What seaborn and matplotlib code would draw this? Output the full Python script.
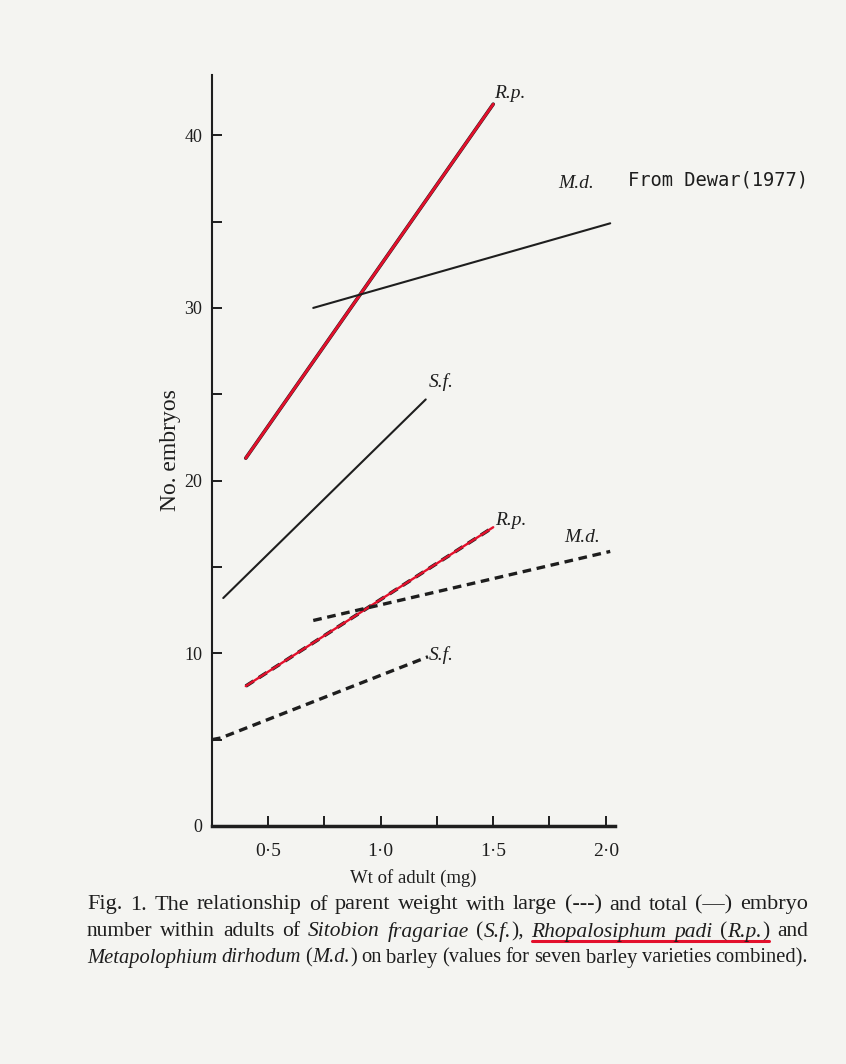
import numpy as np
import pandas as pd
import matplotlib
matplotlib.use("Agg")
import matplotlib.pyplot as plt
import seaborn as sns
from matplotlib.lines import Line2D

# values (Dewar 1977)
rp_total_wt = [0.40, 1.50]
rp_total_emb = [21.3, 41.8]
md_total_wt = [0.70, 2.02]
md_total_emb = [30.0, 34.9]
sf_total_wt = [0.30, 1.20]
sf_total_emb = [13.2, 24.7]

rp_large_wt = [0.40, 1.50]
rp_large_emb = [8.1, 17.3]
md_large_wt = [0.70, 2.02]
md_large_emb = [11.9, 15.9]
sf_large_wt = [0.25, 0.29, 1.21]
sf_large_emb = [5.0, 5.1, 9.8]

x_ticks = [0.5, 1.0, 1.5, 2.0]
x_ticklabels = ["0·5", "1·0", "1·5", "2·0"]
y_ticks = [0, 10, 20, 30, 40]

PAPER = "#f4f4f1"
INK = "#1e1e1e"
RED = "#e3102c"

def frame(wt, emb, species, kind):
    return pd.DataFrame({"wt": wt, "embryos": emb, "species": species, "kind": kind})

df = pd.concat([
    frame(rp_total_wt, rp_total_emb, "R.p.", "total"),
    frame(md_total_wt, md_total_emb, "M.d.", "total"),
    frame(sf_total_wt, sf_total_emb, "S.f.", "total"),
    frame(rp_large_wt, rp_large_emb, "R.p.", "large"),
    frame(md_large_wt, md_large_emb, "M.d.", "large"),
    frame(sf_large_wt, sf_large_emb, "S.f.", "large"),
], ignore_index=True)

sns.set_style("ticks")
plt.rcParams["font.family"] = ["Liberation Serif", "DejaVu Serif"]

fig = plt.figure(figsize=(8.46, 10.64), dpi=100, facecolor=PAPER)
ax = fig.add_axes([0.2506, 0.2237, 0.476, 0.706], facecolor=PAPER)

dash = (0, (2.6, 1.7))
for (sp, kind), sub in df.groupby(["species", "kind"], sort=False):
    ls = "-" if kind == "total" else dash
    if sp == "R.p.":
        # the red highlighter was drawn over the printed black line
        sns.lineplot(data=sub, x="wt", y="embryos", ax=ax, color=INK,
                     lw=2.6, linestyle=ls, estimator=None, sort=False)
        sns.lineplot(data=sub, x="wt", y="embryos", ax=ax, color=RED,
                     lw=2.0 if kind == "total" else 1.7, linestyle="-",
                     estimator=None, sort=False)
    else:
        sns.lineplot(data=sub, x="wt", y="embryos", ax=ax, color=INK,
                     lw=1.5 if kind == "total" else 2.4, linestyle=ls,
                     estimator=None, sort=False)

# species labels near line ends (pixel offsets)
label_offsets = {
    ("R.p.", "total"): (17, 11),
    ("M.d.", "total"): (-34, 40),
    ("S.f.", "total"): (15, 17),
    ("R.p.", "large"): (18, 7),
    ("M.d.", "large"): (-28, 14),
    ("S.f.", "large"): (13, 2),
}
for (sp, kind), (dx, dy) in label_offsets.items():
    sub = df[(df.species == sp) & (df.kind == kind)]
    ax.annotate(sp, xy=(sub.wt.iloc[-1], sub.embryos.iloc[-1]),
                xytext=(dx, dy), textcoords="offset pixels",
                ha="center", va="center", fontsize=14, style="italic",
                color=INK)

ax.set_xlim(0.25, 2.04)
ax.set_ylim(0, 43.5)
ax.set_xticks(x_ticks)
ax.set_xticklabels(x_ticklabels)
ax.set_xticks([0.75, 1.25, 1.75], minor=True)
ax.set_yticks(y_ticks)
ax.set_yticks([5, 15, 25, 35], minor=True)
ax.tick_params(axis="both", which="both", direction="in", length=7,
               width=1.4, colors=INK)
ax.tick_params(axis="x", which="major", pad=12, labelsize=14)
ax.tick_params(axis="y", which="major", pad=7, labelsize=13)
sns.despine(ax=ax)
ax.spines["left"].set_linewidth(1.5)
ax.spines["bottom"].set_linewidth(2.5)
for s in ("left", "bottom"):
    ax.spines[s].set_color(INK)
ax.set_xlabel("Wt of adult (mg)", fontsize=13.5, color=INK, labelpad=7)
ax.set_ylabel("No. embryos", fontsize=17, color=INK)
ax.yaxis.set_label_coords(-0.076, 0.50)

fig.text(628 / 846, 1 - 180 / 1064, "From Dewar(1977)", fontsize=13.5,
         family="DejaVu Sans Mono", color=INK, va="center", ha="left")

# caption: words made of (text, style) pieces, justified between x0 and x1
N, I = "normal", "italic"
caption = [
    [[("Fig.", N)], [("1.", N)], [("The", N)], [("relationship", N)], [("of", N)],
     [("parent", N)], [("weight", N)], [("with", N)], [("large", N)],
     [("(---)", N)], [("and", N)], [("total", N)], [("(—)", N)], [("embryo", N)]],
    [[("number", N)], [("within", N)], [("adults", N)], [("of", N)],
     [("Sitobion", I)], [("fragariae", I)], [("(", N), ("S.f.", I), ("),", N)],
     [("Rhopalosiphum", I)], [("padi", I)], [("(", N), ("R.p.", I), (")", N)],
     [("and", N)]],
    [[("Metapolophium", I)], [("dirhodum", I)], [("(", N), ("M.d.", I), (")", N)],
     [("on", N)], [("barley", N)], [("(values", N)], [("for", N)], [("seven", N)],
     [("barley", N)], [("varieties", N)], [("combined).", N)]],
]
line_y = [905, 932, 958]
line_fs = [16.0, 15.5, 14.8]
x_left, x_right = 87, 808
W, H = fig.bbox.width, fig.bbox.height
renderer = fig.canvas.get_renderer()

placed = []  # (line index, word index, text artist)
for li, (words, y, fs) in enumerate(zip(caption, line_y, line_fs)):
    artists = []
    widths = []
    for word in words:
        segs = []
        for txt, st in word:
            t = fig.text(0, 1 - y / H, txt, fontsize=fs, style=st,
                         color=INK, va="center", ha="left")
            segs.append(t)
        w = sum(s.get_window_extent(renderer).width for s in segs)
        artists.append(segs)
        widths.append(w)
    gap = max(3.0, (x_right - x_left - sum(widths)) / (len(words) - 1))
    x = x_left
    for wi, segs in enumerate(artists):
        for s in segs:
            s.set_x(x / W)
            x += s.get_window_extent(renderer).width
            placed.append((li, wi, s))
        x += gap

# red underline under "Rhopalosiphum padi (R.p.)"
fig.canvas.draw()
line2 = [s for li, wi, s in placed if li == 1 and 7 <= wi <= 9]
b0 = line2[0].get_window_extent(renderer)
b1 = line2[-1].get_window_extent(renderer)
uy = (b0.y0 + 1) / H
fig.add_artist(Line2D([b0.x0 / W, b1.x1 / W], [uy, uy], color=RED, lw=2.2))

fig.savefig("out.png", dpi=100, facecolor=PAPER)
